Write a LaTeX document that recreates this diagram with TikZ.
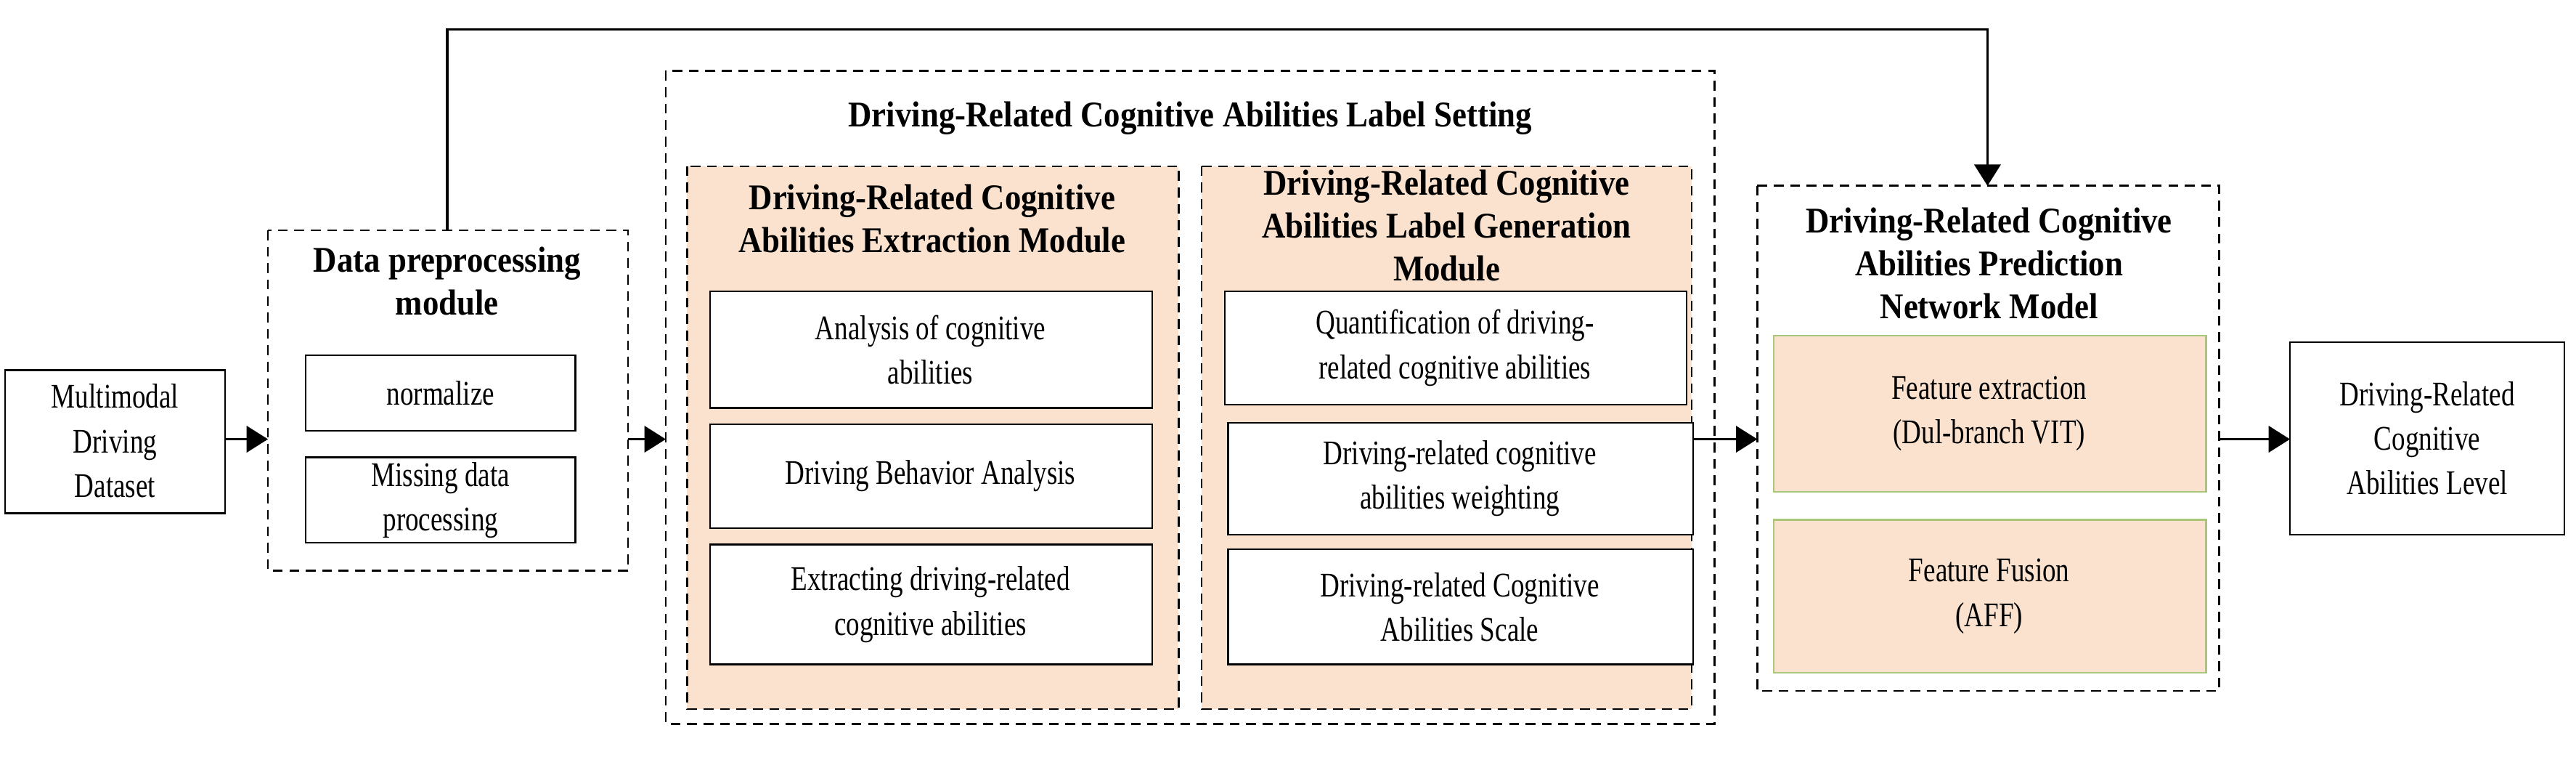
\documentclass[tikz,border=0pt]{standalone}
\usepackage{fontspec}
\setmainfont{Liberation Serif}[FakeStretch=0.78]
\newfontfamily\bft{Liberation Serif}[FakeStretch=0.9]
\usetikzlibrary{arrows.meta}
\definecolor{peach}{HTML}{FBE2CF}
\definecolor{grn}{HTML}{A9C77A}
\begin{document}
\begin{tikzpicture}[x=1pt,y=-1pt,
  txt/.style={font=\fontsize{21}{27}\selectfont,align=center},
  ttl/.style={font=\bft\fontsize{22}{26}\selectfont\bfseries,align=center},
  box/.style={draw,line width=1.1pt},
  dbox/.style={draw,line width=1.2pt,dash pattern=on 6pt off 4pt},
  arr/.style={line width=1.5pt,-{Triangle[length=13pt,width=16pt]}}]
\useasboundingbox (0,0) rectangle (1567,465);
% input
\draw[box] (3,225) rectangle (137,312);
\node[txt] (in) at (70,268) {Multimodal\\Driving\\Dataset};
\coordinate (inR) at (137,267);
% data preprocessing
\draw[dbox] (163,140) rectangle (382,347);
\coordinate (dpL) at (163,267);
\coordinate (dpR) at (382,267);
\coordinate (dpT) at (272,140);
\node[ttl] (dpt) at (272,171) {Data preprocessing\\module};
\draw[box] (186,216) rectangle (350,262);
\node[txt] (norm) at (268,239) {normalize};
\draw[box] (186,278) rectangle (350,330);
\node[txt] (miss) at (268,304) {Missing data\\processing};
% outer label setting
\draw[dbox] (405,43) rectangle (1043,440);
\coordinate (lsL) at (405,267);
\node[ttl] (lst) at (724,72) {Driving-Related Cognitive Abilities Label Setting};
% extraction module
\draw[dbox,fill=peach,line width=1pt] (418,101) rectangle (717,431);
\node[ttl] (ext) at (567,133) {Driving-Related Cognitive\\Abilities Extraction Module};
\draw[box,fill=white] (432,177) rectangle (701,248);
\node[txt] (e1) at (566,212.5) {Analysis of cognitive\\abilities};
\draw[box,fill=white] (432,258) rectangle (701,321);
\node[txt] (e2) at (566,289.5) {Driving Behavior Analysis};
\draw[box,fill=white] (432,331) rectangle (701,404);
\node[txt] (e3) at (566,367.5) {Extracting driving-related\\cognitive abilities};
% generation module
\draw[dbox,fill=peach,line width=1pt] (731,101) rectangle (1029,431);
\node[ttl] (gen) at (880,137) {Driving-Related Cognitive\\Abilities Label Generation\\Module};
\draw[box,fill=white] (745,177) rectangle (1026,246);
\node[txt] (g1) at (885,211.5) {Quantification of driving-\\related cognitive abilities};
\draw[box,fill=white] (747,257) rectangle (1030,325);
\node[txt] (g2) at (888,291) {Driving-related cognitive\\abilities weighting};
\draw[box,fill=white] (747,334) rectangle (1030,404);
\node[txt] (g3) at (888,369) {Driving-related Cognitive\\Abilities Scale};
\coordinate (gR) at (1030,267);
% prediction
\draw[dbox] (1069,113) rectangle (1350,420);
\coordinate (pL) at (1069,267);
\coordinate (pR) at (1350,267);
\coordinate (pT) at (1209,113);
\node[ttl] (pt) at (1210,160) {Driving-Related Cognitive\\Abilities Prediction\\Network Model};
\draw[draw=grn,line width=1pt,fill=peach] (1079,204) rectangle (1342,299);
\node[txt] (f1) at (1210,251.5) {Feature extraction\\(Dul-branch VIT)};
\draw[draw=grn,line width=1pt,fill=peach] (1079,316) rectangle (1342,409);
\node[txt] (f2) at (1210,362.5) {Feature Fusion\\(AFF)};
% output
\draw[box] (1393,208) rectangle (1560,325);
\node[txt] (out) at (1476.5,266.5) {Driving-Related\\Cognitive\\Abilities Level};
\coordinate (oL) at (1393,267);
% arrows
\draw[arr] (inR) -- (dpL);
\draw[arr] (dpR) -- (lsL);
\draw[arr] (gR) -- (pL);
\draw[arr] (pR) -- (oL);
\draw[arr] (dpT) |- (1209,18) -- (pT);
\end{tikzpicture}
\end{document}
